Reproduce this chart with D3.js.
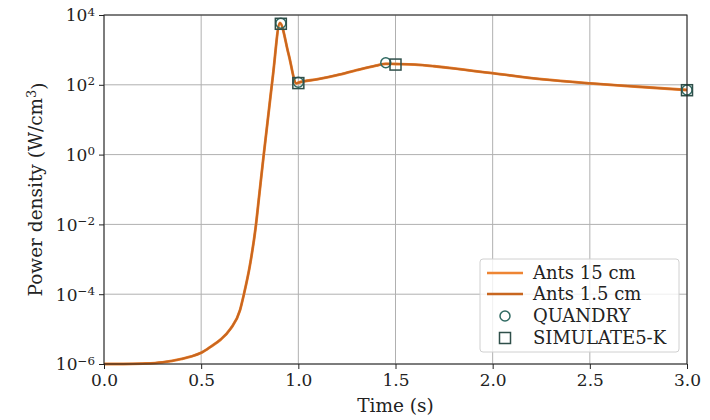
<!DOCTYPE html>
<html><head><meta charset="utf-8">
<script src="https://cdn.jsdelivr.net/npm/d3@7"></script>
<style>body{margin:0;background:#fff} text{font-family:"DejaVu Serif",serif;fill:#222}</style>
</head><body><svg id="c" width="710" height="420"></svg>
<script>
const time    = [0.0, 0.1, 0.2, 0.3, 0.4, 0.45, 0.5, 0.55, 0.6, 0.65, 0.7, 0.72, 0.75, 0.78, 0.8, 0.82, 0.85, 0.87, 0.905, 0.95, 0.99, 1.0, 1.1, 1.2, 1.3, 1.4, 1.45, 1.5, 1.6, 1.7, 1.8, 1.9, 2.0, 2.25, 2.5, 2.75, 3.0];
const ants15  = [1.0e-6, 1.0e-6, 1.03e-6, 1.12e-6, 1.4e-6, 1.65e-6, 2.1e-6, 3.16e-6, 5e-6, 1e-5, 3.5e-5, 1e-4, 6.3e-4, 7.9e-3, 7.9e-2, 0.79, 22, 200, 5900, 750, 110, 115, 145, 190, 263, 355, 400, 395, 380, 340, 295, 250, 215, 145, 110, 88, 71];
const ants1_5 = [1.0e-6, 1.0e-6, 1.03e-6, 1.12e-6, 1.4e-6, 1.65e-6, 2.1e-6, 3.16e-6, 5e-6, 1e-5, 3.5e-5, 1e-4, 6.3e-4, 7.9e-3, 7.9e-2, 0.79, 22, 200, 5900, 750, 110, 115, 145, 190, 263, 355, 400, 395, 380, 340, 295, 250, 215, 145, 110, 88, 71];
const quandryT = [0.91, 1.0, 1.45, 3.0];
const quandryV = [5800, 118, 430, 71];
const simT = [0.91, 1.0, 1.5, 3.0];
const simV = [5600, 112, 380, 70];
const xTicks = [0.0, 0.5, 1.0, 1.5, 2.0, 2.5, 3.0];
const yTickExps = [-6, -4, -2, 0, 2, 4];
const legendLabels = ["Ants 15 cm", "Ants 1.5 cm", "QUANDRY", "SIMULATE5-K"];

const W = 710, H = 420;
const m = {l: 104, r: 23, t: 15, b: 56};
const svg = d3.select("#c");
const x = d3.scaleLinear().domain([0, 3]).range([m.l, W - m.r]);
const y = d3.scaleLog().domain([1e-6, 1e4]).range([H - m.b, m.t]);
const FS = 17, LFS = 18.5, GFS = 18;

// grid
const g = svg.append("g");
g.selectAll("line.vx").data(xTicks).join("line")
  .attr("x1", d => x(d)).attr("x2", d => x(d)).attr("y1", m.t).attr("y2", H - m.b)
  .attr("stroke", "#b0b0b0").attr("stroke-width", 1);
g.selectAll("line.hy").data(yTickExps).join("line")
  .attr("y1", d => y(Math.pow(10, d))).attr("y2", d => y(Math.pow(10, d))).attr("x1", m.l).attr("x2", W - m.r)
  .attr("stroke", "#b0b0b0").attr("stroke-width", 1);

// lines
const line = d3.line().x((d, i) => x(time[i])).y(d => y(d)).curve(d3.curveMonotoneX);
svg.append("path").datum(ants15).attr("d", line).attr("fill", "none")
  .attr("stroke", "#ee8533").attr("stroke-width", 2.8);
svg.append("path").datum(ants1_5).attr("d", line).attr("fill", "none")
  .attr("stroke", "#c8661f").attr("stroke-width", 2);

// markers
svg.selectAll("circle.q").data(quandryT).join("circle")
  .attr("cx", d => x(d)).attr("cy", (d, i) => y(quandryV[i])).attr("r", 5)
  .attr("fill", "none").attr("stroke", "#2f6a62").attr("stroke-width", 1.5);
svg.selectAll("rect.s").data(simT).join("rect")
  .attr("x", d => x(d) - 5.5).attr("y", (d, i) => y(simV[i]) - 5.5).attr("width", 11).attr("height", 11)
  .attr("fill", "none").attr("stroke", "#2f4f4a").attr("stroke-width", 1.5);

// axes
const xAxis = d3.axisBottom(x).tickValues(xTicks).tickFormat(d3.format(".1f")).tickSizeOuter(0).tickSize(5).tickPadding(5);
const gx = svg.append("g").attr("transform", `translate(0,${H - m.b})`).call(xAxis);
gx.selectAll("text").attr("font-size", FS).style("font-family", "DejaVu Serif");
const yAxis = d3.axisLeft(y).tickValues(yTickExps.map(e => Math.pow(10, e))).tickFormat("").tickSizeOuter(0).tickSize(5);
const gy = svg.append("g").attr("transform", `translate(${m.l},0)`).call(yAxis);
[gx, gy].forEach(a => { a.selectAll("line").attr("stroke", "#222"); a.select(".domain").remove(); });
gy.selectAll(".tick").each(function(d) {
  const e = Math.round(Math.log10(d));
  const t = d3.select(this).append("text").attr("x", -9).attr("dy", "0.35em")
    .attr("text-anchor", "end").attr("font-size", FS);
  t.append("tspan").text("10");
  t.append("tspan").attr("dy", "-0.5em").attr("font-size", FS * 0.7).text(e < 0 ? "\u2212" + (-e) : String(e));
});
// spines
svg.append("rect").attr("x", m.l).attr("y", m.t).attr("width", W - m.r - m.l).attr("height", H - m.b - m.t)
  .attr("fill", "none").attr("stroke", "#222").attr("stroke-width", 1);

// axis labels
svg.append("text").attr("x", x(1.5)).attr("y", 412).attr("text-anchor", "middle").attr("font-size", LFS).text("Time (s)");
const yl = svg.append("text").attr("transform", `translate(42,${(m.t + H - m.b) / 2}) rotate(-90)`)
  .attr("text-anchor", "middle").attr("font-size", LFS);
yl.append("tspan").text("Power density (W/cm");
yl.append("tspan").attr("dy", "-0.5em").attr("font-size", LFS * 0.7).text("3");
yl.append("tspan").attr("dy", "0.5em").text(")");

// legend
const lg = svg.append("g");
lg.append("rect").attr("x", 480).attr("y", 259).attr("width", 199).attr("height", 93).attr("rx", 3)
  .attr("fill", "#fff").attr("fill-opacity", 0.8).attr("stroke", "#d0d0d0").attr("stroke-width", 1);
const rowY = [273, 294, 316, 338];
const lineColors = ["#ee8533", "#c8661f"];
[0, 1].forEach(i => lg.append("line").attr("x1", 487).attr("x2", 523).attr("y1", rowY[i]).attr("y2", rowY[i])
  .attr("stroke", lineColors[i]).attr("stroke-width", 2.5));
lg.append("circle").attr("cx", 505).attr("cy", rowY[2]).attr("r", 5).attr("fill", "none").attr("stroke", "#2f6a62").attr("stroke-width", 1.5);
lg.append("rect").attr("x", 499.5).attr("y", rowY[3] - 5.5).attr("width", 11).attr("height", 11).attr("fill", "none").attr("stroke", "#2f4f4a").attr("stroke-width", 1.5);
legendLabels.forEach((t, i) => lg.append("text").attr("x", 533).attr("y", rowY[i]).attr("dy", "0.35em").attr("font-size", GFS).text(t));
</script></body></html>
